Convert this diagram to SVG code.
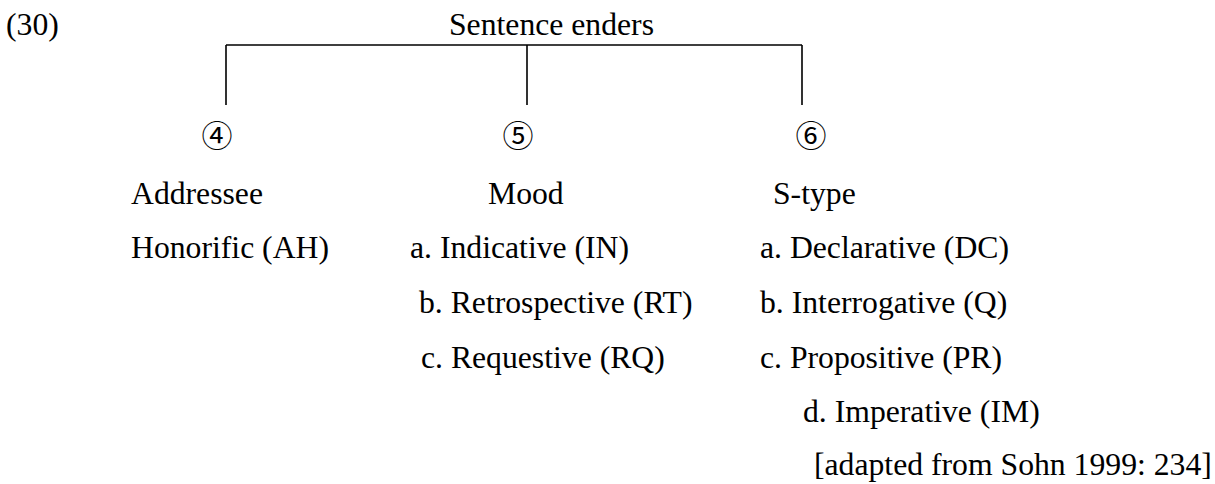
<svg xmlns="http://www.w3.org/2000/svg" width="1215" height="484" viewBox="0 0 1215 484">
<style>
  .t { font-family: "Liberation Serif", "Times New Roman", serif; font-size: 31.7px; fill: #000; }
  .c { font-family: "Noto Sans CJK JP", "DejaVu Sans", sans-serif; font-size: 31px; fill: #000; text-anchor: middle; }
  .ln { stroke: #000; stroke-width: 1.6; fill: none; }
</style>
<rect width="1215" height="484" fill="#fff"/>
<g id="example-number"><text class="t" x="6" y="35">(30)</text></g>
<g id="root"><text class="t" x="449" y="35">Sentence enders</text></g>
<g id="connectors">
  <path class="ln" d="M226 45 H802 M226 45 V105 M527 45 V105 M802 45 V105"/>
</g>
<g id="node-ah">
  <text class="c" x="217" y="147">④</text>
  <text class="t" x="131" y="204">Addressee</text>
  <text class="t" x="131" y="258">Honorific (AH)</text>
</g>
<g id="node-mood">
  <text class="c" x="518" y="147">⑤</text>
  <text class="t" x="488" y="204">Mood</text>
  <text class="t" x="410" y="258">a. Indicative (IN)</text>
  <text class="t" x="419" y="313">b. Retrospective (RT)</text>
  <text class="t" x="421" y="368">c. Requestive (RQ)</text>
</g>
<g id="node-stype">
  <text class="c" x="811" y="147">⑥</text>
  <text class="t" x="773" y="204">S-type</text>
  <text class="t" x="760" y="258">a. Declarative (DC)</text>
  <text class="t" x="760" y="313">b. Interrogative (Q)</text>
  <text class="t" x="760" y="368">c. Propositive (PR)</text>
  <text class="t" x="803" y="422">d. Imperative (IM)</text>
</g>
<g id="source"><text class="t" x="814" y="475">[adapted from Sohn 1999: 234]</text></g>
</svg>
